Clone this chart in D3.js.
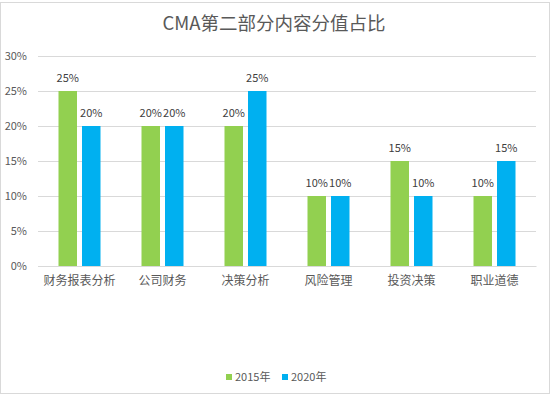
<!DOCTYPE html>
<html>
<head>
<meta charset="utf-8">
<script src="https://cdn.jsdelivr.net/npm/d3@7"></script>
<style>
  body { margin: 0; background: #fff; }
  svg { display: block; font-family: "Noto Sans CJK SC", "Noto Sans", sans-serif; }
</style>
</head>
<body>
<svg id="chart"></svg>
<script>
/* Chart data. */
const categories = ["财务报表分析", "公司财务", "决策分析", "风险管理", "投资决策", "职业道德"]
const seriesNames = ["2015年", "2020年"]
const values2015 = [25, 20, 20, 10, 15, 10]
const values2020 = [20, 20, 25, 10, 10, 15]
const yTicks = [0, 5, 10, 15, 20, 25, 30]
const colors = ["#92d050", "#00b0f0"]

/* Svg size and plot area. */
const width = 552
const height = 396
const plot = { left: 38, right: 536, top: 56, bottom: 266 }

const svg = d3.select("#chart")
  .attr("width", width)
  .attr("height", height)

/* Chart border. */
svg.append("rect")
  .attr("x", 0.5).attr("y", 2.5)
  .attr("width", 549).attr("height", 391)
  .attr("fill", "#fff")
  .attr("stroke", "#d9d9d9")

/* Title. */
svg.append("text")
  .attr("x", 274).attr("y", 30)
  .attr("text-anchor", "middle")
  .attr("font-size", 18.5)
  .attr("fill", "#595959")
  .text("CMA第二部分内容分值占比")

/* Scales. */
const xScale = d3.scaleBand()
  .domain(categories)
  .range([plot.left, plot.right])

const yScale = d3.scaleLinear()
  .domain([0, 30])
  .range([plot.bottom, plot.top])

const barWidth = 18.5
const barGap = 5

/* Y grid. */
svg.append("g")
  .attr("transform", `translate(${plot.left},0)`)
  .call(d3.axisLeft(yScale).tickValues(yTicks).tickSize(-(plot.right - plot.left)).tickFormat(""))
  .call(g => g.select(".domain").remove())
  .call(g => g.selectAll("line").attr("stroke", "#d9d9d9"))

/* Y axis labels. */
svg.append("g")
  .attr("transform", `translate(${plot.left},0)`)
  .call(d3.axisLeft(yScale).tickValues(yTicks).tickSize(0).tickPadding(11).tickFormat(d => d + "%"))
  .call(g => g.select(".domain").remove())
  .call(g => g.selectAll("text").attr("font-size", 11).attr("fill", "#595959").attr("font-family", "\"Noto Sans CJK SC\", sans-serif"))

/* Bars. */
const seriesData = [values2015, values2020]
seriesData.forEach((vals, s) => {
  const offset = s === 0 ? -barWidth - barGap / 2 : barGap / 2
  const g = svg.append("g")
  g.selectAll("rect")
    .data(vals)
    .join("rect")
    .attr("x", (d, i) => xScale(categories[i]) + xScale.bandwidth() / 2 + offset)
    .attr("y", d => yScale(d))
    .attr("width", barWidth)
    .attr("height", d => yScale(0) - yScale(d))
    .attr("fill", colors[s])
  g.selectAll("text")
    .data(vals)
    .join("text")
    .attr("x", (d, i) => xScale(categories[i]) + xScale.bandwidth() / 2 + offset + barWidth / 2)
    .attr("y", d => yScale(d) - 9)
    .attr("text-anchor", "middle")
    .attr("font-size", 11)
    .attr("fill", "#404040")
    .text(d => d + "%")
})

/* X axis line and labels. */
svg.append("g")
  .attr("transform", `translate(0,${plot.bottom})`)
  .call(d3.axisBottom(xScale).tickSize(0).tickPadding(10))
  .call(g => g.select(".domain").attr("stroke", "#d9d9d9"))
  .call(g => g.selectAll("text").attr("font-size", 12).attr("fill", "#595959").attr("font-family", "\"Noto Sans CJK SC\", sans-serif"))

/* Legend. */
const legendX = [226, 282]
seriesNames.forEach((name, s) => {
  svg.append("rect")
    .attr("x", legendX[s]).attr("y", 374)
    .attr("width", 6).attr("height", 6)
    .attr("fill", colors[s])
  svg.append("text")
    .attr("x", legendX[s] + 9).attr("y", 381)
    .attr("font-size", 11)
    .attr("fill", "#595959")
    .text(name)
})
</script>
</body>
</html>
